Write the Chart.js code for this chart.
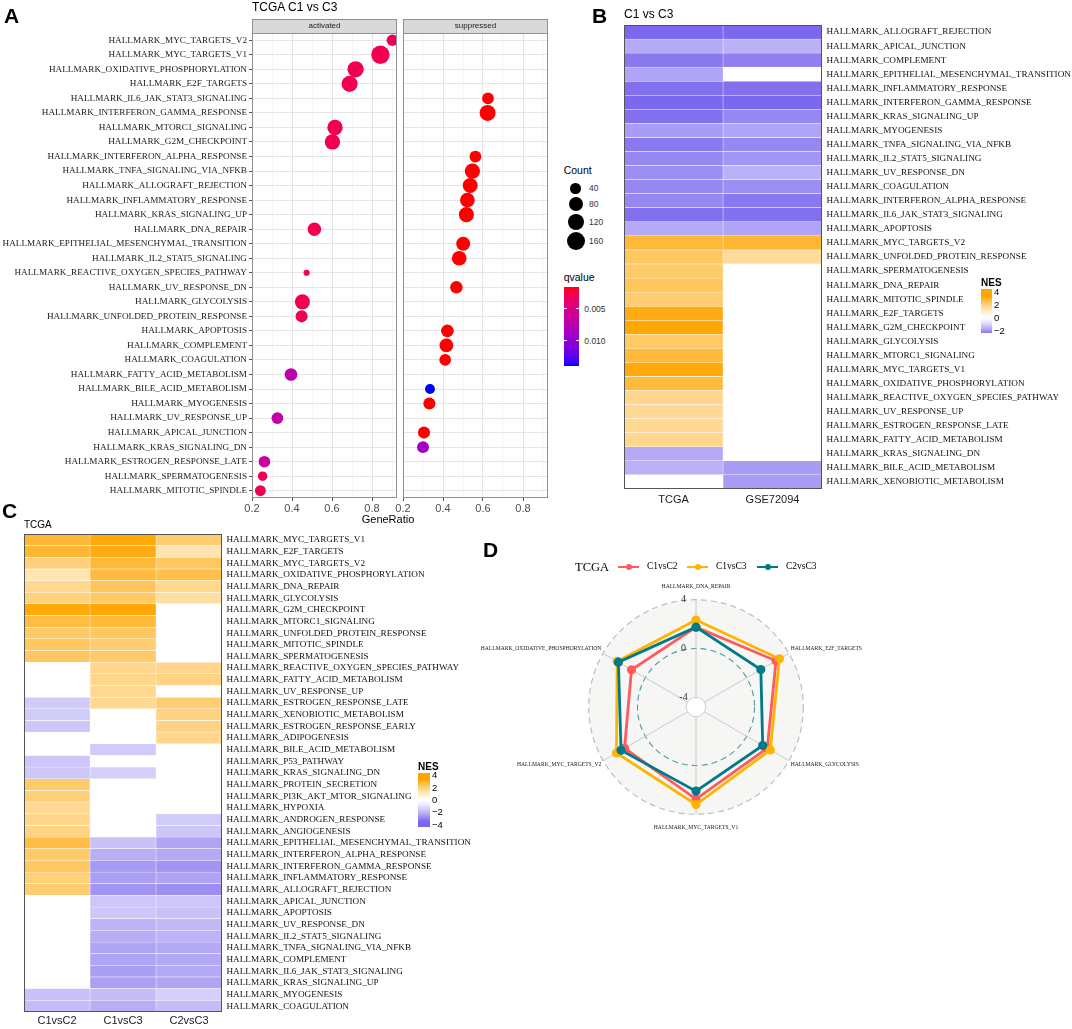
<!DOCTYPE html>
<html>
<head>
<meta charset="utf-8">
<title>Hallmark GSEA panels</title>
<script src="https://cdn.jsdelivr.net/npm/chart.js@4.4.1/dist/chart.umd.min.js"></script>
<style>
  html, body { margin: 0; padding: 0; background: #fff; }
  #page { position: relative; width: 1072px; height: 1029px; overflow: hidden;
          font-family: "Liberation Sans", Arial, sans-serif; color: #1a1a1a; }
  #page canvas { position: absolute; }
  .t { position: absolute; white-space: nowrap; line-height: 1; }
</style>
</head>
<body>
<div id="page">
  <canvas id="dotAct" width="400" height="515" style="left:0;top:0"></canvas>
  <canvas id="dotSup" width="160" height="515" style="left:390px;top:0"></canvas>
  <canvas id="heatB" width="448" height="500" style="left:624px;top:15px"></canvas>
  <canvas id="heatC" width="476" height="505" style="left:24px;top:524px"></canvas>
  <canvas id="radarD" width="460" height="249" style="left:466px;top:583px"></canvas>
</div>
<script>
const SANS = "'Liberation Sans', Arial, sans-serif";
const SERIF = "'Liberation Serif', 'Times New Roman', serif";
const H = s => 'HALLMARK_' + s;

// ---------- panel A: TCGA C1 vs C3 dot plot ----------
const dotTerms = ['MYC_TARGETS_V2', 'MYC_TARGETS_V1', 'OXIDATIVE_PHOSPHORYLATION', 'E2F_TARGETS',
  'IL6_JAK_STAT3_SIGNALING', 'INTERFERON_GAMMA_RESPONSE', 'MTORC1_SIGNALING', 'G2M_CHECKPOINT',
  'INTERFERON_ALPHA_RESPONSE', 'TNFA_SIGNALING_VIA_NFKB', 'ALLOGRAFT_REJECTION', 'INFLAMMATORY_RESPONSE',
  'KRAS_SIGNALING_UP', 'DNA_REPAIR', 'EPITHELIAL_MESENCHYMAL_TRANSITION', 'IL2_STAT5_SIGNALING',
  'REACTIVE_OXYGEN_SPECIES_PATHWAY', 'UV_RESPONSE_DN', 'GLYCOLYSIS', 'UNFOLDED_PROTEIN_RESPONSE',
  'APOPTOSIS', 'COMPLEMENT', 'COAGULATION', 'FATTY_ACID_METABOLISM', 'BILE_ACID_METABOLISM',
  'MYOGENESIS', 'UV_RESPONSE_UP', 'APICAL_JUNCTION', 'KRAS_SIGNALING_DN', 'ESTROGEN_RESPONSE_LATE',
  'SPERMATOGENESIS', 'MITOTIC_SPINDLE'];

const actTerms = ['MYC_TARGETS_V2', 'MYC_TARGETS_V1', 'OXIDATIVE_PHOSPHORYLATION', 'E2F_TARGETS',
  'MTORC1_SIGNALING', 'G2M_CHECKPOINT', 'DNA_REPAIR', 'REACTIVE_OXYGEN_SPECIES_PATHWAY', 'GLYCOLYSIS',
  'UNFOLDED_PROTEIN_RESPONSE', 'FATTY_ACID_METABOLISM', 'UV_RESPONSE_UP', 'ESTROGEN_RESPONSE_LATE',
  'SPERMATOGENESIS', 'MITOTIC_SPINDLE'];
const actRatio = [0.902, 0.842, 0.718, 0.688, 0.615, 0.602, 0.512, 0.473, 0.452, 0.448, 0.395, 0.327, 0.262, 0.253, 0.242];
const actCount = [50, 162, 118, 114, 102, 100, 72, 23, 96, 55, 62, 52, 50, 33, 44];
const actQ = [0.0030, 0.0028, 0.0028, 0.0028, 0.0028, 0.0028, 0.0028, 0.0026, 0.0028, 0.0028, 0.0072, 0.0068, 0.0062, 0.0028, 0.0028];

const supTerms = ['IL6_JAK_STAT3_SIGNALING', 'INTERFERON_GAMMA_RESPONSE', 'INTERFERON_ALPHA_RESPONSE',
  'TNFA_SIGNALING_VIA_NFKB', 'ALLOGRAFT_REJECTION', 'INFLAMMATORY_RESPONSE', 'KRAS_SIGNALING_UP',
  'EPITHELIAL_MESENCHYMAL_TRANSITION', 'IL2_STAT5_SIGNALING', 'UV_RESPONSE_DN', 'APOPTOSIS', 'COMPLEMENT',
  'COAGULATION', 'BILE_ACID_METABOLISM', 'MYOGENESIS', 'APICAL_JUNCTION', 'KRAS_SIGNALING_DN'];
const supRatio = [0.625, 0.623, 0.562, 0.547, 0.536, 0.522, 0.517, 0.501, 0.481, 0.467, 0.422, 0.417, 0.411, 0.335, 0.332, 0.305, 0.300];
const supCount = [52, 112, 52, 100, 95, 92, 96, 80, 90, 60, 62, 76, 52, 36, 55, 55, 54];
const supQ = [0.0015, 0.0015, 0.0015, 0.0015, 0.0015, 0.0015, 0.0015, 0.0015, 0.0015, 0.0015, 0.0015, 0.0015, 0.0015, 0.0140, 0.0015, 0.0015, 0.0088];

const ratioTicks = [0.2, 0.4, 0.6, 0.8];
const countBreaks = [40, 80, 120, 160];
const qBreaks = [0.005, 0.010];

// ---------- panel B: C1 vs C3 NES heatmap ----------
const bTerms = ['ALLOGRAFT_REJECTION', 'APICAL_JUNCTION', 'COMPLEMENT', 'EPITHELIAL_MESENCHYMAL_TRANSITION',
  'INFLAMMATORY_RESPONSE', 'INTERFERON_GAMMA_RESPONSE', 'KRAS_SIGNALING_UP', 'MYOGENESIS',
  'TNFA_SIGNALING_VIA_NFKB', 'IL2_STAT5_SIGNALING', 'UV_RESPONSE_DN', 'COAGULATION',
  'INTERFERON_ALPHA_RESPONSE', 'IL6_JAK_STAT3_SIGNALING', 'APOPTOSIS', 'MYC_TARGETS_V2',
  'UNFOLDED_PROTEIN_RESPONSE', 'SPERMATOGENESIS', 'DNA_REPAIR', 'MITOTIC_SPINDLE', 'E2F_TARGETS',
  'G2M_CHECKPOINT', 'GLYCOLYSIS', 'MTORC1_SIGNALING', 'MYC_TARGETS_V1', 'OXIDATIVE_PHOSPHORYLATION',
  'REACTIVE_OXYGEN_SPECIES_PATHWAY', 'UV_RESPONSE_UP', 'ESTROGEN_RESPONSE_LATE', 'FATTY_ACID_METABOLISM',
  'KRAS_SIGNALING_DN', 'BILE_ACID_METABOLISM', 'XENOBIOTIC_METABOLISM'];
const bCols = ['TCGA', 'GSE72094'];
const bTCGA = [-2.6, -1.6, -2.3, -1.7, -2.4, -2.5, -2.4, -1.8, -2.3, -2.1, -2.0, -2.1, -2.1, -2.4, -1.6,
  2.73, 2.3, 2.2, 2.33, 2.1, 3.1, 3.25, 2.24, 2.7, 3.2, 2.67, 1.8, 1.7, 1.7, 1.8, -1.6, -1.5, null];
const bGSE = [-2.5, -1.5, -2.2, null, -2.4, -2.5, -2.1, -1.7, -2.1, -1.9, -1.5, -2.0, -2.3, -2.4, -1.7,
  2.8, 1.6, null, null, null, null, null, null, null, null, null, null, null, null, null, null, -1.8, -1.8];
const nesTicksB = [4, 2, 0, -2];

// ---------- panel C: TCGA NES heatmap ----------
const cTerms = ['MYC_TARGETS_V1', 'E2F_TARGETS', 'MYC_TARGETS_V2', 'OXIDATIVE_PHOSPHORYLATION', 'DNA_REPAIR',
  'GLYCOLYSIS', 'G2M_CHECKPOINT', 'MTORC1_SIGNALING', 'UNFOLDED_PROTEIN_RESPONSE', 'MITOTIC_SPINDLE',
  'SPERMATOGENESIS', 'REACTIVE_OXYGEN_SPECIES_PATHWAY', 'FATTY_ACID_METABOLISM', 'UV_RESPONSE_UP',
  'ESTROGEN_RESPONSE_LATE', 'XENOBIOTIC_METABOLISM', 'ESTROGEN_RESPONSE_EARLY', 'ADIPOGENESIS',
  'BILE_ACID_METABOLISM', 'P53_PATHWAY', 'KRAS_SIGNALING_DN', 'PROTEIN_SECRETION', 'PI3K_AKT_MTOR_SIGNALING',
  'HYPOXIA', 'ANDROGEN_RESPONSE', 'ANGIOGENESIS', 'EPITHELIAL_MESENCHYMAL_TRANSITION',
  'INTERFERON_ALPHA_RESPONSE', 'INTERFERON_GAMMA_RESPONSE', 'INFLAMMATORY_RESPONSE', 'ALLOGRAFT_REJECTION',
  'APICAL_JUNCTION', 'APOPTOSIS', 'UV_RESPONSE_DN', 'IL2_STAT5_SIGNALING', 'TNFA_SIGNALING_VIA_NFKB',
  'COMPLEMENT', 'IL6_JAK_STAT3_SIGNALING', 'KRAS_SIGNALING_UP', 'MYOGENESIS', 'COAGULATION'];
const cCols = ['C1vsC2', 'C1vsC3', 'C2vsC3'];
const cC1vsC2 = [2.75, 2.78, 1.97, 1.31, 1.75, 1.95, 3.2, 2.6, 2.2, 2.3, 2.3, null, null, null, -1.5, -1.5,
  -1.6, null, null, -1.6, -1.6, 2.2, 2.0, 1.7, 1.8, 1.9, 2.6, 2.2, 2.3, 2.0, 2.1, null, null, null, null,
  null, null, null, null, -1.7, -1.8];
const cC1vsC3 = [3.2, 3.1, 2.73, 2.67, 2.33, 2.24, 3.25, 2.7, 2.3, 2.1, 2.2, 1.8, 1.8, 1.7, 1.7, null,
  null, null, -1.5, null, -1.4, null, null, null, null, null, -1.7, -2.1, -2.5, -2.4, -2.6, -1.6, -1.6, -2.0,
  -2.1, -2.3, -2.3, -2.4, -2.4, -1.8, -2.1];
const cC2vsC3 = [2.1, 1.34, 2.3, 2.55, 1.75, 1.52, null, null, null, null, null, 1.8, 1.9, null, 2.1, 1.9,
  1.9, 1.8, null, null, null, null, null, null, -1.5, -1.6, -2.3, -2.2, -2.6, -2.3, -2.7, -1.6, -1.7, -1.9,
  -2.0, -2.2, -2.2, -2.2, -2.3, -1.4, -1.8];
const nesTicksC = [4, 2, 0, -2, -4];

// ---------- panel D: TCGA radar ----------
const radarAxes = ['DNA_REPAIR', 'E2F_TARGETS', 'GLYCOLYSIS', 'MYC_TARGETS_V1', 'MYC_TARGETS_V2', 'OXIDATIVE_PHOSPHORYLATION'];
const radarC1vsC2 = [1.75, 2.78, 1.95, 2.75, 1.97, 1.31];
const radarC1vsC3 = [2.33, 3.10, 2.24, 3.20, 2.73, 2.67];
const radarC2vsC3 = [1.75, 1.34, 1.52, 2.10, 2.30, 2.55];
const radarTicks = [-4, 0, 4];

// ---------- helpers ----------
const page = document.getElementById('page');
function text(str, x, y, css, centered) {
  const d = document.createElement('div');
  d.className = 't';
  d.textContent = str;
  d.style.cssText = `left:${x}px;top:${y}px;transform:${centered ? 'translate(-50%,-50%)' : 'translate(0,-50%)'};` + (css || '');
  page.appendChild(d);
  return d;
}
function box(x, y, w, h, css) {
  const d = document.createElement('div');
  d.style.cssText = `position:absolute;left:${x}px;top:${y}px;width:${w}px;height:${h}px;` + css;
  page.appendChild(d);
  return d;
}

const qAll = actQ.concat(supQ);
const qLow = Math.min(...qAll), qHigh = Math.max(...qAll);
const cAll = actCount.concat(supCount);
const cLow = Math.min(...cAll), cHigh = Math.max(...cAll);

function qColor(q) {
  const t = Math.min(1, Math.max(0, (q - qLow) / (qHigh - qLow)));
  return `rgb(${Math.round(255 * Math.sqrt(1 - t))},0,${Math.round(255 * Math.sqrt(t))})`;
}
function dotRadius(c) {
  return 3.1 + 6.1 * Math.sqrt((c - cLow) / (cHigh - cLow));
}
function nesColor(v, lo, hi) {
  if (v === null) return 'rgba(255,255,255,0)';
  const pos = v >= 0;
  const t = Math.pow(Math.min(1, Math.abs(v) / (pos ? hi : -lo)), 1.3);
  const c = pos ? [255, 165, 0] : [123, 104, 238];
  return `rgb(${c.map(k => Math.round(255 + (k - 255) * t)).join(',')})`;
}
const isMajor = v => ratioTicks.some(t => Math.abs(t - v) < 1e-6);

// strip + border around each facet
const facetFrame = {
  id: 'facetFrame',
  afterDraw(chart, args, opts) {
    const { ctx, chartArea: a } = chart;
    ctx.save();
    ctx.lineWidth = 1;
    ctx.strokeStyle = '#8f8f8f';
    ctx.fillStyle = '#d9d9d9';
    ctx.fillRect(a.left, a.top - 14, a.right - a.left, 14);
    ctx.strokeRect(a.left + 0.5, a.top - 14 + 0.5, a.right - a.left - 1, 14);
    ctx.strokeRect(a.left + 0.5, a.top + 0.5, a.right - a.left - 1, a.bottom - a.top - 1);
    ctx.fillStyle = '#1a1a1a';
    ctx.font = '8px ' + SANS;
    ctx.textAlign = 'center';
    ctx.textBaseline = 'middle';
    ctx.fillText(opts.label, (a.left + a.right) / 2, a.top - 7);
    ctx.restore();
  }
};

// dark frame around the heatmaps
const heatFrame = {
  id: 'heatFrame',
  afterDraw(chart) {
    const { ctx, chartArea: a } = chart;
    ctx.save();
    ctx.strokeStyle = '#555';
    ctx.lineWidth = 1;
    ctx.strokeRect(a.left + 0.5, a.top + 0.5, a.right - a.left - 1, a.bottom - a.top - 1);
    ctx.restore();
  }
};

function dotPanel(id, facet, terms, ratio, count, q, withLabels) {
  return new Chart(document.getElementById(id), {
    type: 'bubble',
    data: {
      datasets: [{
        data: terms.map((t, i) => ({ x: ratio[i], y: H(t), r: dotRadius(count[i]) })),
        backgroundColor: q.map(qColor),
        borderWidth: 0,
        hoverRadius: 0,
        clip: 0
      }]
    },
    options: {
      responsive: false,
      animation: false,
      events: [],
      layout: { autoPadding: false, padding: { top: 33, left: withLabels ? 0 : 13, right: withLabels ? 3 : 2, bottom: 0 } },
      plugins: { legend: { display: false }, tooltip: { enabled: false }, facetFrame: { label: facet } },
      scales: {
        x: {
          type: 'linear', min: 0.2, max: 0.925,
          ticks: {
            stepSize: 0.1, includeBounds: false, autoSkip: false, maxRotation: 0, padding: 1,
            color: '#4d4d4d', font: { family: SANS, size: 11 },
            callback: v => isMajor(v) ? v.toFixed(1) : ''
          },
          grid: {
            color: c => c.tick && isMajor(c.tick.value) ? '#e5e5e5' : '#f1f1f1',
            lineWidth: c => c.tick && isMajor(c.tick.value) ? 1 : 0.7,
            tickColor: c => c.tick && isMajor(c.tick.value) ? '#555' : 'rgba(0,0,0,0)',
            tickLength: 3
          },
          border: { display: false },
          afterFit: s => { s.height = 17; }
        },
        y: {
          type: 'category', labels: dotTerms.map(H), offset: true,
          ticks: { display: withLabels, autoSkip: false, padding: 2, color: '#1a1a1a', font: { family: SERIF, size: 9.2 } },
          grid: { color: '#e5e5e5', drawTicks: withLabels, tickLength: 3, tickColor: '#555' },
          border: { display: false },
          afterFit: s => { s.width = withLabels ? 252 : 0; }
        }
      }
    },
    plugins: [facetFrame]
  });
}

function heatmap(id, terms, cols, values, lo, hi, xHeight, yWidth, xPad) {
  return new Chart(document.getElementById(id), {
    type: 'bar',
    data: {
      labels: terms.map(H),
      datasets: cols.map((c, j) => ({
        label: c,
        data: terms.map(() => 1),
        backgroundColor: values[j].map(v => nesColor(v, lo, hi)),
        borderColor: '#ffffff',
        borderWidth: 0.5,
        borderSkipped: false,
        barPercentage: 1,
        categoryPercentage: 1
      }))
    },
    options: {
      indexAxis: 'y',
      responsive: false,
      animation: false,
      events: [],
      layout: { padding: 0 },
      plugins: { legend: { display: false }, tooltip: { enabled: false } },
      scales: {
        x: {
          type: 'linear', stacked: true, min: 0, max: cols.length,
          afterBuildTicks: s => { s.ticks = cols.map((c, i) => ({ value: i + 0.5 })); },
          ticks: { autoSkip: false, maxRotation: 0, padding: xPad, color: '#1a1a1a',
                   font: { family: SANS, size: 11 }, callback: (v, i) => cols[i] },
          grid: { display: false, drawTicks: false },
          border: { display: false },
          afterFit: s => { s.height = xHeight; }
        },
        y: {
          stacked: true, position: 'right',
          ticks: { autoSkip: false, padding: 4.48, color: '#111', font: { family: SERIF, size: 9.2 } },
          grid: { display: false, drawTicks: false },
          border: { display: false },
          afterFit: s => { s.width = yWidth; }
        }
      }
    },
    plugins: [heatFrame]
  });
}

// ---------- panel A ----------
dotPanel('dotAct', 'activated', actTerms, actRatio, actCount, actQ, true);
dotPanel('dotSup', 'suppressed', supTerms, supRatio, supCount, supQ, false);
text('A', 4, 15, 'font-weight:bold;font-size:21px;color:#000;');
text('TCGA C1 vs C3', 252, 7, 'font-size:12px;color:#000;');
text('GeneRatio', 388, 519, 'font-size:11px;color:#000;', true);

// size legend
text('Count', 563.7, 170, 'font-size:10.5px;color:#000;');
const countKeyY = [188.3, 204, 221.7, 241];
countBreaks.forEach((c, i) => {
  const r = dotRadius(c);
  box(575.7 - r, countKeyY[i] - r, 2 * r, 2 * r, 'background:#000;border-radius:50%;');
  text(String(c), 589, countKeyY[i], 'font-size:8.5px;color:#333;');
});

// qvalue colourbar
text('qvalue', 563.7, 276.7, 'font-size:10.5px;color:#000;');
const qBarTop = 286.7, qBarH = 79.3;
const qStops = [];
for (let k = 0; k <= 20; k++) qStops.push(`${qColor(qLow + (qHigh - qLow) * k / 20)} ${k * 5}%`);
box(563.7, qBarTop, 15.6, qBarH, `background:linear-gradient(to bottom, ${qStops.join(',')});`);
qBreaks.forEach(b => {
  const y = qBarTop + qBarH * (b - qLow) / (qHigh - qLow);
  box(563.7, y - 0.5, 3, 1, 'background:#fff;');
  box(576.3, y - 0.5, 3, 1, 'background:#fff;');
  text(b.toFixed(3), 584.3, y, 'font-size:8.5px;color:#333;');
});

// ---------- panel B ----------
heatmap('heatB', bTerms, bCols, [bTCGA, bGSE], -2.5, 3.3, 26, 250, 4);
text('B', 592, 15, 'font-weight:bold;font-size:21px;color:#000;');
text('C1 vs C3', 624, 14, 'font-size:12px;color:#000;');

function nesLegend(x, y0, y1, w, vTop, vBot, ticks, lo, hi, titleY) {
  text('NES', x, titleY, 'font-size:10px;font-weight:bold;color:#000;');
  const stops = [];
  for (let k = 0; k <= 24; k++) {
    const v = vTop + (vBot - vTop) * k / 24;
    stops.push(`${nesColor(v, lo, hi)} ${(k / 24 * 100).toFixed(1)}%`);
  }
  box(x, y0, w, y1 - y0, `background:linear-gradient(to bottom, ${stops.join(',')});`);
  ticks.forEach(v => {
    const y = y0 + (y1 - y0) * (vTop - v) / (vTop - vBot);
    text(v < 0 ? '\u2212' + Math.abs(v) : String(v), x + w + 2, y, 'font-size:9.5px;color:#000;');
  });
}
nesLegend(981, 289, 333, 11, 4.4, -2.3, nesTicksB, -2.5, 3.3, 283);

// ---------- panel C ----------
heatmap('heatC', cTerms, cCols, [cC1vsC2, cC1vsC3, cC2vsC3], -3.4, 3.3, 17, 278, 2);
text('C', 2, 510, 'font-weight:bold;font-size:21px;color:#000;');
text('TCGA', 24, 525, 'font-size:10px;color:#000;');
nesLegend(418, 773, 827, 12, 4.35, -4.35, nesTicksC, -3.4, 3.3, 767);

// ---------- panel D ----------
const radarBackdrop = {
  id: 'radarBackdrop',
  beforeDraw(chart) {
    const s = chart.scales.r, ctx = chart.ctx;
    ctx.save();
    ctx.fillStyle = '#f6f6f5';
    ctx.beginPath();
    ctx.arc(s.xCenter, s.yCenter, s.getDistanceFromCenterForValue(s.max), 0, Math.PI * 2);
    ctx.fill();
    ctx.restore();
  },
  beforeDatasetsDraw(chart) {
    const s = chart.scales.r, ctx = chart.ctx;
    ctx.save();
    ctx.fillStyle = '#fff';
    ctx.strokeStyle = '#cfcfcf';
    ctx.lineWidth = 1;
    ctx.beginPath();
    ctx.arc(s.xCenter, s.yCenter, s.getDistanceFromCenterForValue(radarTicks[0]), 0, Math.PI * 2);
    ctx.fill();
    ctx.stroke();
    ctx.restore();
  }
};
const radarSeries = [
  { label: 'C1vsC2', data: radarC1vsC2, color: '#FF5A5F', order: 2 },
  { label: 'C1vsC3', data: radarC1vsC3, color: '#FFB400', order: 1 },
  { label: 'C2vsC3', data: radarC2vsC3, color: '#007A87', order: 0 }
];
const gridStyle = v => v === 0 ? '#4f9aa3' : v === radarTicks[0] ? 'rgba(0,0,0,0)' : '#bdbdbd';
new Chart(document.getElementById('radarD'), {
  type: 'radar',
  data: {
    labels: radarAxes.map(H),
    datasets: radarSeries.map(s => ({
      label: s.label, data: s.data, order: s.order,
      borderColor: s.color, backgroundColor: s.color,
      pointBackgroundColor: s.color, pointBorderColor: s.color,
      borderWidth: 2.8, pointRadius: 3.2, pointHoverRadius: 3.2, fill: false, tension: 0
    }))
  },
  options: {
    responsive: false,
    animation: false,
    events: [],
    layout: { padding: 0 },
    plugins: { legend: { display: false }, tooltip: { enabled: false } },
    scales: {
      r: {
        min: -4.8, max: 4,
        afterBuildTicks: s => { s.ticks = radarTicks.map(v => ({ value: v })); },
        ticks: {
          z: 1, showLabelBackdrop: false, color: '#333', font: { family: SERIF, size: 10 },
          callback: v => String(v) + '\u2007\u2007\u2007\u2007\u2007'
        },
        grid: {
          circular: true,
          color: c => gridStyle(c.tick ? c.tick.value : null),
          lineWidth: c => c.tick && c.tick.value === 0 ? 1.1 : 1.2,
          borderDash: [6, 4]
        },
        border: { dash: [6, 4] },
        angleLines: { color: '#c4c4c4', lineWidth: 0.9 },
        pointLabels: {
          padding: c => (c.index % 3 === 0 ? 3 : -5),
          color: '#1a1a1a', font: { family: SERIF, size: 5.6 }
        }
      }
    }
  },
  plugins: [radarBackdrop]
});
text('D', 483, 549, 'font-weight:bold;font-size:21px;color:#000;');

// radar legend
text('TCGA', 575, 567, `font-family:${SERIF};font-size:12.5px;color:#000;`);
const legendX = [618, 687, 757];
radarSeries.forEach((s, i) => {
  const x = legendX[i];
  box(x, 565.5, 21, 2.6, `background:${s.color};`);
  box(x + 7.5, 563.8, 6, 6, `background:${s.color};border-radius:50%;`);
  text(s.label, x + 29, 567, `font-family:${SERIF};font-size:9.5px;color:#000;`);
});
</script>
</body>
</html>
